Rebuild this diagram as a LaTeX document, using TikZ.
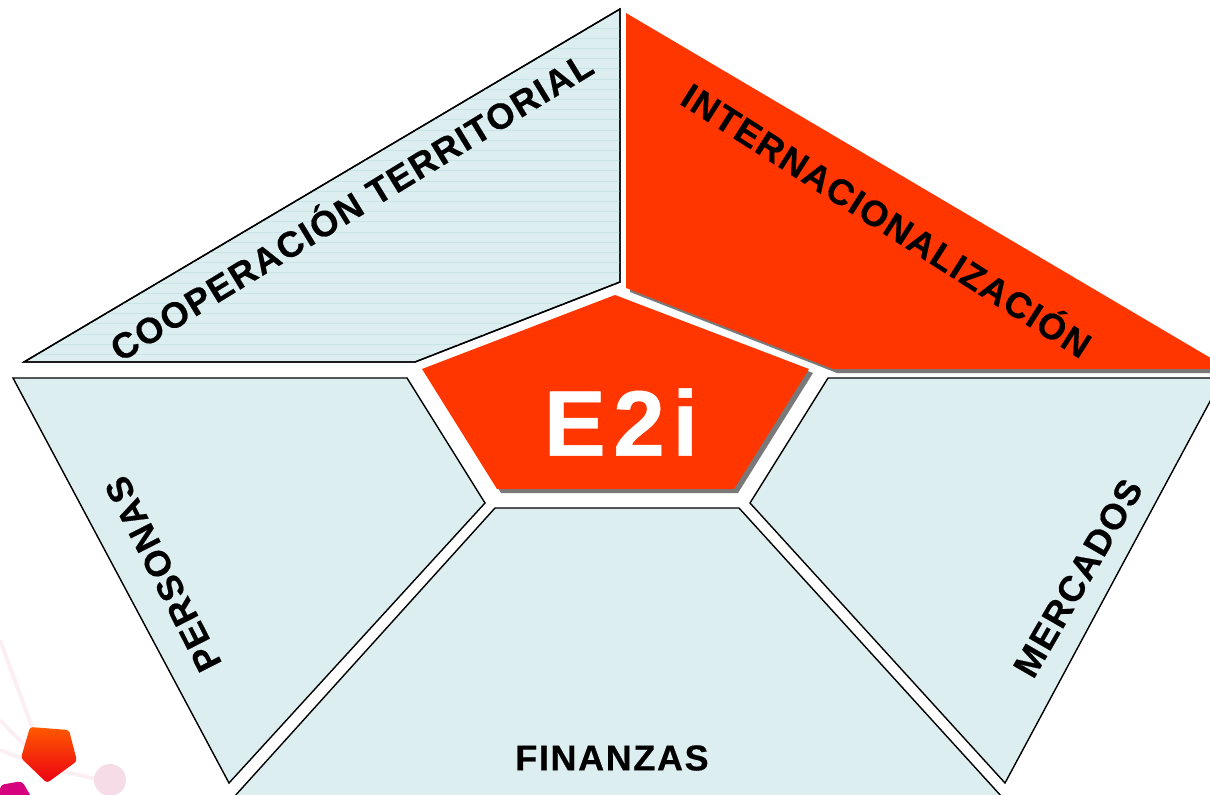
\documentclass[tikz,border=0pt]{standalone}
\usepackage{fontspec}
\setmainfont{Liberation Sans}
\newfontfamily\labelfont[LetterSpace=4.5,BoldFeatures={FakeBold=0.5}]{Liberation Sans}
\newfontfamily\hubfont[LetterSpace=8,BoldFeatures={FakeBold=0.5}]{Liberation Sans}
\definecolor{sector}{HTML}{DDEEF0}
\definecolor{hatch}{HTML}{C8E4E6}
\definecolor{hub}{HTML}{FF3600}
\definecolor{logomagenta}{HTML}{D6007F}
\definecolor{logoring}{HTML}{F6DCE6}
\definecolor{logoray}{HTML}{FCEFF4}
\tikzset{
  every sector/.style={draw=black,fill=sector,line width=1.4pt,line join=miter},
  sector label/.style={font=\labelfont\bfseries\fontsize{36}{36}\selectfont,text=black,inner sep=0pt},
  hub shape/.style={fill=hub},
  hub shadow/.style={fill=gray!95!black},
}
\begin{document}
\begin{tikzpicture}[x=1pt,y=-1pt]
\useasboundingbox (0,0) rectangle (1210,795);
% faint logo behind
\foreach \tipx/\tipy in {0/640,0/720,0/750,110/782}
{
  \draw[logoray,line width=4pt] (47,768) -- (\tipx,\tipy);
}
\fill[logoring] (110,780) circle[radius=16];
\path[rounded corners=3pt,top color=orange!70!red,bottom color=red!70!purple]
  (30,727) -- (69,730) -- (77,761) -- (47,783) -- (21,758) -- cycle;
\fill[logomagenta,rounded corners=4pt] (0,785) -- (22,781) -- (33,800) -- (0,800) -- cycle;
% outer sectors
\path[every sector] (620,9) -- (620,282) -- (415,362) -- (24,362) -- cycle;
\begin{scope}
  \clip (620,9) -- (620,282) -- (415,362) -- (24,362) -- cycle;
  \foreach \liney in {28,38.2,...,362}
  {
    \draw[hatch,line width=0.7pt] (0,\liney) -- (620,\liney);
  }
\end{scope}
\draw[black,line width=1.4pt] (620,9) -- (620,282) -- (415,362) -- (24,362) -- cycle;
\path[every sector] (13,378) -- (407,378) -- (485,503) -- (229,783) -- cycle;
\path[every sector] (828,378) -- (1214,378) -- (1214,394) -- (1005,783) -- (750,503) -- cycle;
\path[every sector] (495,508) -- (739,508) -- (1002,797) -- (234,797) -- cycle;
% red sector and hub, with their grey shadows
\fill[hub shadow] (630,17) -- (1214,364) -- (1214,373) -- (837,373) -- (630,292) -- cycle;
\fill[hub shape] (626,13) -- (1214,360) -- (1214,369) -- (833,369) -- (626,288) -- cycle;
\fill[hub shadow] (619,299) -- (813,373) -- (738,493) -- (501,493) -- (426,373) -- cycle;
\fill[hub shape] (615,295) -- (809,369) -- (734,489) -- (497,489) -- (422,369) -- cycle;
\node[font=\hubfont\bfseries\fontsize{93}{93}\selectfont,text=white,inner sep=0pt] (hub) at (621,422) {E2i};
% sector labels
\foreach \nam/\posx/\posy/\ang/\txt in {
  coop/350/204/31.4/COOPERACIÓN TERRITORIAL,
  inter/888/218/-32.5/INTERNACIONALIZACIÓN,
  pers/163/574/117/PERSONAS,
  merc/1078/578/60/MERCADOS,
  fin/612/758/0/FINANZAS}
{
  \node[sector label,rotate=\ang] (\nam) at (\posx,\posy) {\txt};
}
\end{tikzpicture}
\end{document}
